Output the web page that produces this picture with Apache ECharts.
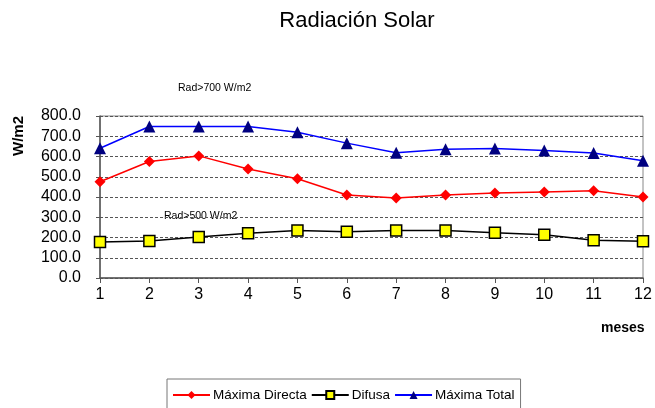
<!DOCTYPE html>
<html>
<head>
<meta charset="utf-8">
<script src="https://cdn.jsdelivr.net/npm/echarts@6/dist/echarts.min.js"></script>
<style>
  html, body { margin: 0; padding: 0; background: #fff; }
  #chart { width: 655px; height: 408px; }
</style>
</head>
<body>
<div id="chart"></div>
<script>
// datos
const meses = ['1', '2', '3', '4', '5', '6', '7', '8', '9', '10', '11', '12']
const maximaDirecta = [475, 575, 603, 538, 490, 410, 395, 410, 420, 425, 431, 400]
const difusa = [178, 183, 203, 221, 235, 228, 234, 234, 224, 213, 187, 182]
const maximaTotal = [641, 748, 748, 748, 720, 666, 618, 636, 640, 630, 617, 579]

const font = 'Arial, "Liberation Sans", sans-serif'

const chart = echarts.init(document.getElementById('chart'))

const option = {
  animation: false,
  backgroundColor: '#fff',
  title: {
    text: 'Radiación Solar',
    left: 352,
    top: 5,
    textAlign: 'center',
    textStyle: { fontFamily: font, fontSize: 22, fontWeight: 'normal', color: '#000' }
  },
  grid: {
    left: 100,
    right: 12,
    top: 116,
    bottom: 130,
    show: true,
    borderColor: '#888',
    borderWidth: 1
  },
  legend: {
    top: 379,
    left: 167,
    width: 354,
    padding: [9, 6, 20, 5],
    borderColor: '#777',
    borderWidth: 1,
    itemGap: 4,
    itemWidth: 37,
    itemHeight: 10,
    textStyle: { fontFamily: font, fontSize: 13.5, color: '#000', padding: [0, 0, 0, -2] },
    data: ['Máxima Directa', 'Difusa', 'Máxima Total']
  },
  xAxis: {
    type: 'category',
    data: meses,
    boundaryGap: false,
    axisLine: { lineStyle: { color: '#555', width: 1.5 } },
    axisTick: { length: 5, lineStyle: { color: '#555' } },
    axisLabel: { fontFamily: font, fontSize: 16, color: '#000', margin: 9 },
    splitLine: { show: false }
  },
  yAxis: {
    type: 'value',
    min: 0,
    max: 800,
    interval: 100,
    axisLine: { show: true, lineStyle: { color: '#555', width: 1.5 } },
    axisTick: { show: true, length: 4, lineStyle: { color: '#555' } },
    axisLabel: {
      fontFamily: font, fontSize: 16, color: '#000', margin: 19,
      formatter: v => v.toFixed(1)
    },
    splitLine: { lineStyle: { color: '#555', type: [3, 2], width: 1 } }
  },
  graphic: [
    {
      type: 'text', left: 11, top: 116, rotation: Math.PI / 2,
      style: { text: 'W/m2', font: 'bold 15px ' + font, fill: '#000' }
    },
    {
      type: 'text', left: 601, top: 321,
      style: { text: 'meses', font: 'bold 14px ' + font, fill: '#000' }
    },
    {
      type: 'text', left: 178, top: 83,
      style: { text: 'Rad>700 W/m2', font: '10.5px ' + font, fill: '#000' }
    },
    {
      type: 'text', left: 164, top: 211,
      style: { text: 'Rad>500 W/m2', font: '10.5px ' + font, fill: '#000' }
    }
  ],
  series: [
    {
      name: 'Máxima Directa',
      type: 'line',
      data: maximaDirecta,
      symbol: 'diamond',
      symbolSize: 11,
      itemStyle: { color: '#ff0000' },
      lineStyle: { color: '#ff0000', width: 1.5 }
    },
    {
      name: 'Difusa',
      type: 'line',
      data: difusa,
      symbol: 'rect',
      symbolSize: 11,
      itemStyle: { color: '#ffff00', borderColor: '#000', borderWidth: 1.5 },
      lineStyle: { color: '#000', width: 1.5 }
    },
    {
      name: 'Máxima Total',
      type: 'line',
      data: maximaTotal,
      symbol: 'triangle',
      symbolSize: 12,
      itemStyle: { color: '#000080' },
      lineStyle: { color: '#0000ff', width: 1.5 }
    }
  ]
}

chart.setOption(option)
</script>
</body>
</html>
